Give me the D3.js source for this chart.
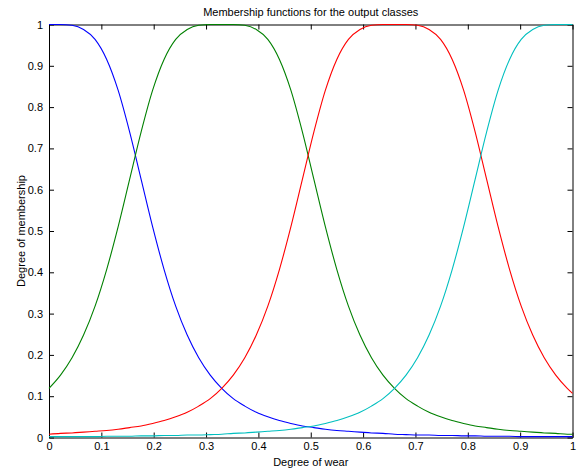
<!DOCTYPE html>
<html>
<head>
<meta charset="utf-8">
<script src="https://cdn.jsdelivr.net/npm/d3@7"></script>
<style>
  body { margin: 0; background: #fff; }
  svg { display: block; font-family: "Liberation Sans", Arial, sans-serif; }
  .axis text { font-size: 11px; fill: #000; }
  .axis path, .axis line { stroke: #000; }
</style>
</head>
<body>
<svg id="chart" width="581" height="470"></svg>
<script>
// sample points along the x axis (degree of wear)
const xs = [0, 0.022, 0.044, 0.066, 0.088, 0.11, 0.132, 0.154, 0.176, 0.198,
  0.22, 0.242, 0.264, 0.286, 0.308, 0.33, 0.352, 0.374, 0.396, 0.418,
  0.44, 0.462, 0.484, 0.506, 0.528, 0.55, 0.572, 0.594, 0.616, 0.638,
  0.66, 0.682, 0.704, 0.726, 0.748, 0.77, 0.792, 0.814, 0.836, 0.858,
  0.88, 0.902, 0.924, 0.946, 0.968, 0.99, 1]

// membership values
const blue = [1.000, 1.000, 0.998, 0.988, 0.964, 0.916, 0.841, 0.740, 0.625, 0.510,
  0.406, 0.318, 0.248, 0.193, 0.151, 0.119, 0.094, 0.076, 0.061, 0.050,
  0.041, 0.034, 0.028, 0.024, 0.020, 0.017, 0.015, 0.013, 0.011, 0.010,
  0.008, 0.007, 0.006, 0.006, 0.005, 0.005, 0.004, 0.004, 0.003, 0.003,
  0.003, 0.002, 0.002, 0.002, 0.002, 0.002, 0.002]
const green = [0.119, 0.151, 0.193, 0.248, 0.318, 0.406, 0.510, 0.625, 0.740, 0.841,
  0.916, 0.964, 0.988, 0.998, 1.000, 1.000, 1.000, 0.998, 0.988, 0.964,
  0.916, 0.841, 0.740, 0.625, 0.510, 0.406, 0.318, 0.248, 0.193, 0.151,
  0.119, 0.094, 0.076, 0.061, 0.050, 0.041, 0.034, 0.028, 0.024, 0.020,
  0.017, 0.015, 0.013, 0.011, 0.010, 0.008, 0.008]
const red = [0.008, 0.010, 0.011, 0.013, 0.015, 0.017, 0.020, 0.024, 0.028, 0.034,
  0.041, 0.050, 0.061, 0.076, 0.094, 0.119, 0.151, 0.193, 0.248, 0.318,
  0.406, 0.510, 0.625, 0.740, 0.841, 0.916, 0.964, 0.988, 0.998, 1.000,
  1.000, 1.000, 0.998, 0.988, 0.964, 0.916, 0.841, 0.740, 0.625, 0.510,
  0.406, 0.318, 0.248, 0.193, 0.151, 0.119, 0.107]
const cyan = [0.002, 0.002, 0.002, 0.002, 0.002, 0.003, 0.003, 0.003, 0.004, 0.004,
  0.005, 0.005, 0.006, 0.006, 0.007, 0.008, 0.010, 0.011, 0.013, 0.015,
  0.017, 0.020, 0.024, 0.028, 0.034, 0.041, 0.050, 0.061, 0.076, 0.094,
  0.119, 0.151, 0.193, 0.248, 0.318, 0.406, 0.510, 0.625, 0.740, 0.841,
  0.916, 0.964, 0.988, 0.998, 1.000, 1.000, 1.000]

const series = [blue, green, red, cyan]
const colors = ["#0000ff", "#008000", "#ff0000", "#00bfbf"]
const xTicks = [0, 0.1, 0.2, 0.3, 0.4, 0.5, 0.6, 0.7, 0.8, 0.9, 1]
const yTicks = [0, 0.1, 0.2, 0.3, 0.4, 0.5, 0.6, 0.7, 0.8, 0.9, 1]

const svg = d3.select("#chart")
const mLeft = 49, mRight = 572.5, mTop = 24.5, mBottom = 437.5

const x = d3.scaleLinear().domain([0, 1]).range([mLeft, mRight])
const y = d3.scaleLinear().domain([0, 1]).range([mBottom, mTop])

// axes, ticks pointing inwards on all four sides
const fmt = d => String(d)
svg.append("g").attr("class", "axis")
  .attr("transform", `translate(0,${mBottom})`)
  .call(d3.axisBottom(x).tickValues(xTicks).tickFormat(fmt).tickSizeInner(-5).tickSizeOuter(0).tickPadding(5))
svg.append("g").attr("class", "axis")
  .attr("transform", `translate(0,${mTop})`)
  .call(d3.axisTop(x).tickValues(xTicks).tickFormat("").tickSizeInner(-5).tickSizeOuter(0))
svg.append("g").attr("class", "axis")
  .attr("transform", `translate(${mLeft},0)`)
  .call(d3.axisLeft(y).tickValues(yTicks).tickFormat(fmt).tickSizeInner(-5).tickSizeOuter(0).tickPadding(6))
svg.append("g").attr("class", "axis")
  .attr("transform", `translate(${mRight},0)`)
  .call(d3.axisRight(y).tickValues(yTicks).tickFormat("").tickSizeInner(-5).tickSizeOuter(0))

svg.selectAll(".axis path").attr("stroke-width", 1)

// curves drawn over the axes, like the original
const line = d3.line()
  .x((d, i) => x(xs[i]))
  .y(d => y(d))
  .curve(d3.curveMonotoneX)

series.forEach((s, i) => {
  svg.append("path")
    .attr("d", line(s))
    .attr("fill", "none")
    .attr("stroke", colors[i])
    .attr("stroke-width", 1.1)
})

// labels
svg.append("text")
  .attr("x", (mLeft + mRight) / 2).attr("y", 16)
  .attr("text-anchor", "middle").attr("font-size", 11)
  .text("Membership functions for the output classes")
svg.append("text")
  .attr("x", (mLeft + mRight) / 2).attr("y", 466)
  .attr("text-anchor", "middle").attr("font-size", 11)
  .text("Degree of wear")
svg.append("text")
  .attr("transform", `translate(25,${(mTop + mBottom) / 2}) rotate(-90)`)
  .attr("text-anchor", "middle").attr("font-size", 11)
  .text("Degree of membership")
</script>
</body>
</html>
